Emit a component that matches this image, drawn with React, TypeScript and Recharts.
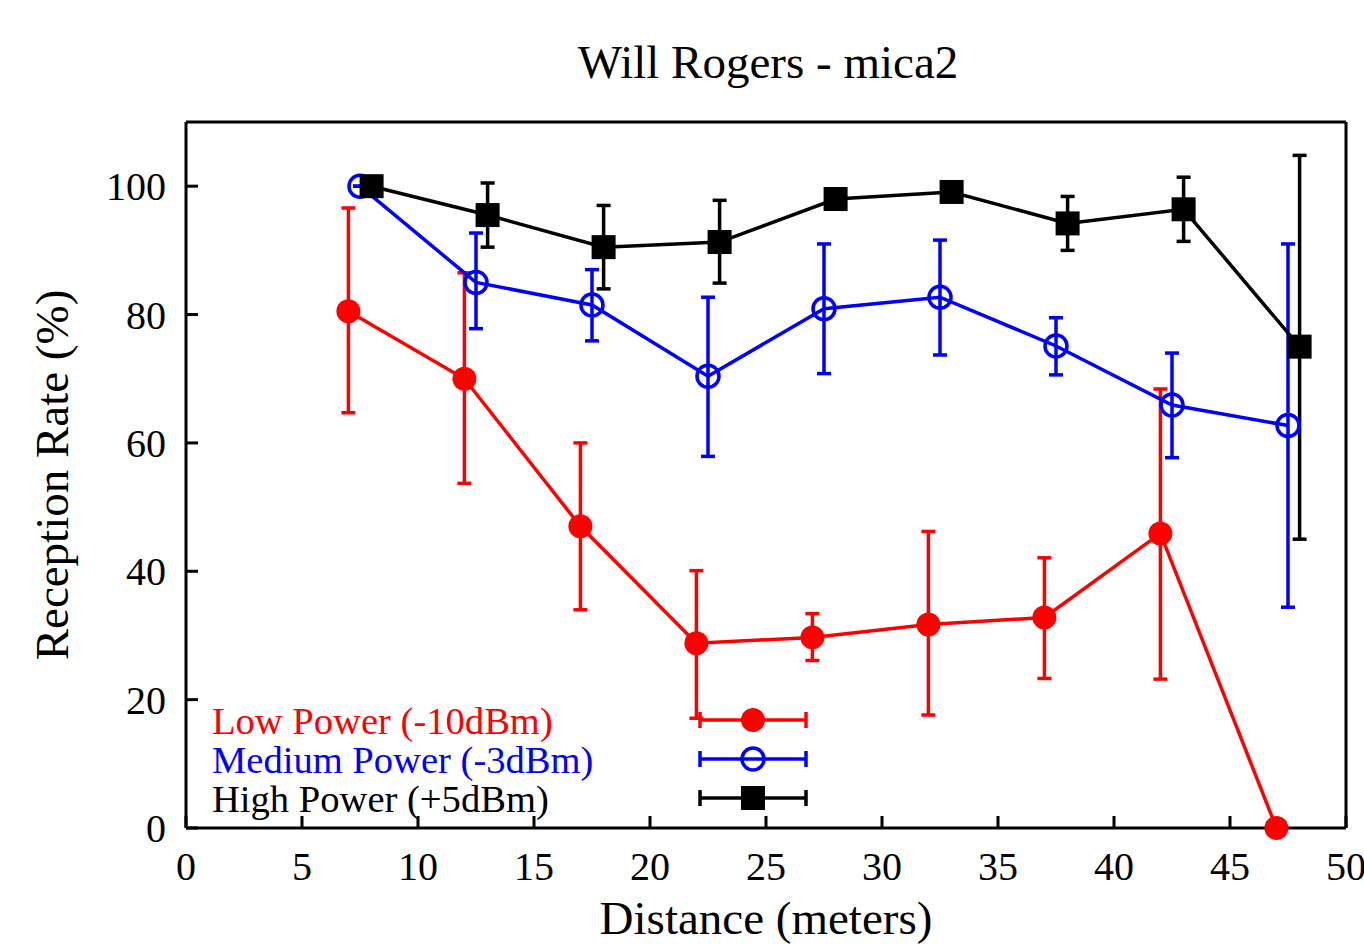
import React from 'react';
import { ComposedChart, Line, XAxis, YAxis, ErrorBar, Legend, Label } from 'recharts';

if (typeof document !== 'undefined') {
  document.body.style.margin = '0';
  document.body.style.overflow = 'hidden';
}

// ---------- data ----------
const xTicks = [0, 5, 10, 15, 20, 25, 30, 35, 40, 45, 50];
const yTicks = [0, 20, 40, 60, 80, 100];

const lowX = [7, 12, 17, 22, 27, 32, 37, 42, 47];
const lowY = [80.5, 70, 47, 28.8, 29.7, 31.7, 32.8, 45.9, 0];
const lowHi = [96.6, 86.5, 60, 40.1, 33.4, 46.2, 42.1, 68.4, 0];
const lowLo = [64.7, 53.7, 34, 17.1, 26.1, 17.6, 23.3, 23.2, 0];

const medX = [7.5, 12.5, 17.5, 22.5, 27.5, 32.5, 37.5, 42.5, 47.5];
const medY = [100, 85, 81.5, 70.4, 80.9, 82.7, 75.1, 65.9, 62.7];
const medHi = [100, 92.7, 87, 82.7, 91, 91.6, 79.5, 74, 91];
const medLo = [100, 77.8, 75.9, 57.9, 70.8, 73.7, 70.6, 57.7, 34.4];

const highX = [8, 13, 18, 23, 28, 33, 38, 43, 48];
const highY = [100, 95.5, 90.5, 91.3, 98, 99.1, 94.2, 96.4, 75];
const highHi = [100, 100.5, 97, 97.8, 98, 99.1, 98.4, 101.4, 104.8];
const highLo = [100, 90.5, 84, 84.9, 98, 99.1, 90, 91.4, 45];

const chartTitle = 'Will Rogers - mica2';
const xTitle = 'Distance (meters)';
const yTitle = 'Reception Rate (%)';
const seriesNames = ['Low Power (-10dBm)', 'Medium Power (-3dBm)', 'High Power (+5dBm)'];
const seriesColors = ['#ff0000', '#0000ff', '#000000'];

const build = (xs: number[], ys: number[], hi: number[], lo: number[]) =>
  xs.map((x, i) => ({ x, y: ys[i], err: [ys[i] - lo[i], hi[i] - ys[i]] }));

const lowData = build(lowX, lowY, lowHi, lowLo);
const medData = build(medX, medY, medHi, medLo);
const highData = build(highX, highY, highHi, highLo);

// ---------- styles ----------
const FONT = '"Liberation Serif", "Times New Roman", serif';
const TICK_LEN = 12;
const AXIS_W = 3;

const BottomTick = (p: any) => (
  <g>
    <line x1={p.x} x2={p.x} y1={p.y} y2={p.y - TICK_LEN} stroke="#000" strokeWidth={AXIS_W} />
    <text x={p.x} y={p.y + 52} textAnchor="middle" fontFamily={FONT} fontSize={40} fill="#000">
      {p.payload.value}
    </text>
  </g>
);
const TopTick = (p: any) => (
  <line x1={p.x} x2={p.x} y1={p.y} y2={p.y + TICK_LEN} stroke="#000" strokeWidth={AXIS_W} />
);
const LeftTick = (p: any) => (
  <g>
    <line x1={p.x} x2={p.x + TICK_LEN} y1={p.y} y2={p.y} stroke="#000" strokeWidth={AXIS_W} />
    <text x={p.x - 20} y={p.y + 14} textAnchor="end" fontFamily={FONT} fontSize={40} fill="#000">
      {p.payload.value}
    </text>
  </g>
);
const RightTick = (p: any) => (
  <line x1={p.x} x2={p.x - TICK_LEN} y1={p.y} y2={p.y} stroke="#000" strokeWidth={AXIS_W} />
);

const drawMarker = (i: number, cx: number, cy: number, key?: any) => {
  if (i === 0) return <circle key={key} cx={cx} cy={cy} r={12} fill="#ff0000" />;
  if (i === 1)
    return <circle key={key} cx={cx} cy={cy} r={11} fill="none" stroke="#0000ff" strokeWidth={3.5} />;
  return <rect key={key} x={cx - 12} y={cy - 12} width={24} height={24} fill="#000" />;
};

const makeDot = (i: number) => (p: any) => {
  if (p.cx == null || p.cy == null) return <g key={p.key} />;
  return drawMarker(i, p.cx, p.cy, p.key);
};

const LegendContent = () => (
  <svg width={640} height={130} style={{ display: 'block', overflow: 'visible' }}>
    {seriesNames.map((name, i) => {
      const cy = 25 + i * 39;
      const c = seriesColors[i];
      return (
        <g key={name}>
          <text x={12} y={cy + 14} fontFamily={FONT} fontSize={38.6} fill={c}>
            {name}
          </text>
          <line x1={500} x2={606} y1={cy} y2={cy} stroke={c} strokeWidth={3.5} />
          <line x1={500} x2={500} y1={cy - 8} y2={cy + 8} stroke={c} strokeWidth={3.5} />
          <line x1={606} x2={606} y1={cy - 8} y2={cy + 8} stroke={c} strokeWidth={3.5} />
          {drawMarker(i, 553, cy)}
        </g>
      );
    })}
  </svg>
);

const XTitle = (p: any) => {
  const vb = p.viewBox || {};
  const cx = vb.x + vb.width / 2;
  return (
    <g>
      <text x={cx} y={vb.y + 106} textAnchor="middle" fontFamily={FONT} fontSize={47} fill="#000">
        {xTitle}
      </text>
      <text x={cx + 2} y={78} textAnchor="middle" fontFamily={FONT} fontSize={47} fill="#000">
        {chartTitle}
      </text>
    </g>
  );
};
const YTitle = (p: any) => {
  const vb = p.viewBox || {};
  const cx = 68;
  const cy = vb.y + vb.height / 2;
  return (
    <text
      x={cx}
      y={cy}
      transform={`rotate(-90, ${cx}, ${cy})`}
      textAnchor="middle"
      fontFamily={FONT}
      fontSize={47}
      fill="#000"
    >
      {yTitle}
    </text>
  );
};

export default function App() {
  return (
    <ComposedChart
      width={1364}
      height={944}
      margin={{ top: 121, right: 17, bottom: 0, left: 0 }}
      style={{ background: '#fff' }}
    >
      <XAxis
        xAxisId="b"
        dataKey="x"
        type="number"
        domain={[0, 50]}
        ticks={xTicks}
        height={116}
        tickSize={0}
        tickMargin={0}
        tickLine={false}
        axisLine={{ stroke: '#000', strokeWidth: AXIS_W }}
        tick={<BottomTick />}
        interval={0}
        label={<Label content={<XTitle />} />}
      />
      <XAxis
        xAxisId="t"
        orientation="top"
        dataKey="x"
        type="number"
        domain={[0, 50]}
        ticks={xTicks}
        height={1}
        tickSize={0}
        tickMargin={0}
        tickLine={false}
        axisLine={{ stroke: '#000', strokeWidth: AXIS_W }}
        tick={<TopTick />}
        interval={0}
      />
      <YAxis
        yAxisId="l"
        type="number"
        domain={[0, 110]}
        ticks={yTicks}
        width={186}
        tickSize={0}
        tickMargin={0}
        tickLine={false}
        axisLine={{ stroke: '#000', strokeWidth: AXIS_W }}
        tick={<LeftTick />}
        interval={0}
        label={<Label content={<YTitle />} />}
      />
      <YAxis
        yAxisId="r"
        orientation="right"
        type="number"
        domain={[0, 110]}
        ticks={yTicks}
        width={1}
        tickSize={0}
        tickMargin={0}
        tickLine={false}
        axisLine={{ stroke: '#000', strokeWidth: AXIS_W }}
        tick={<RightTick />}
        interval={0}
      />
      <Legend
        layout="vertical"
        align="center"
        verticalAlign="middle"
        content={<LegendContent />}
        wrapperStyle={{ position: 'absolute', left: 200, top: 695, width: 640, height: 130 }}
      />
      <Line
        xAxisId="b"
        yAxisId="l"
        data={lowData}
        dataKey="y"
        name={seriesNames[0]}
        stroke={seriesColors[0]}
        strokeWidth={3.5}
        dot={makeDot(0)}
        activeDot={false}
        isAnimationActive={false}
      >
        <ErrorBar dataKey="err" direction="y" width={7} stroke={seriesColors[0]} strokeWidth={3.5} isAnimationActive={false} />
      </Line>
      <Line
        xAxisId="b"
        yAxisId="l"
        data={medData}
        dataKey="y"
        name={seriesNames[1]}
        stroke={seriesColors[1]}
        strokeWidth={3.5}
        dot={makeDot(1)}
        activeDot={false}
        isAnimationActive={false}
      >
        <ErrorBar dataKey="err" direction="y" width={7} stroke={seriesColors[1]} strokeWidth={3.5} isAnimationActive={false} />
      </Line>
      <Line
        xAxisId="b"
        yAxisId="l"
        data={highData}
        dataKey="y"
        name={seriesNames[2]}
        stroke={seriesColors[2]}
        strokeWidth={3.5}
        dot={makeDot(2)}
        activeDot={false}
        isAnimationActive={false}
      >
        <ErrorBar dataKey="err" direction="y" width={7} stroke={seriesColors[2]} strokeWidth={3.5} isAnimationActive={false} />
      </Line>
    </ComposedChart>
  );
}
